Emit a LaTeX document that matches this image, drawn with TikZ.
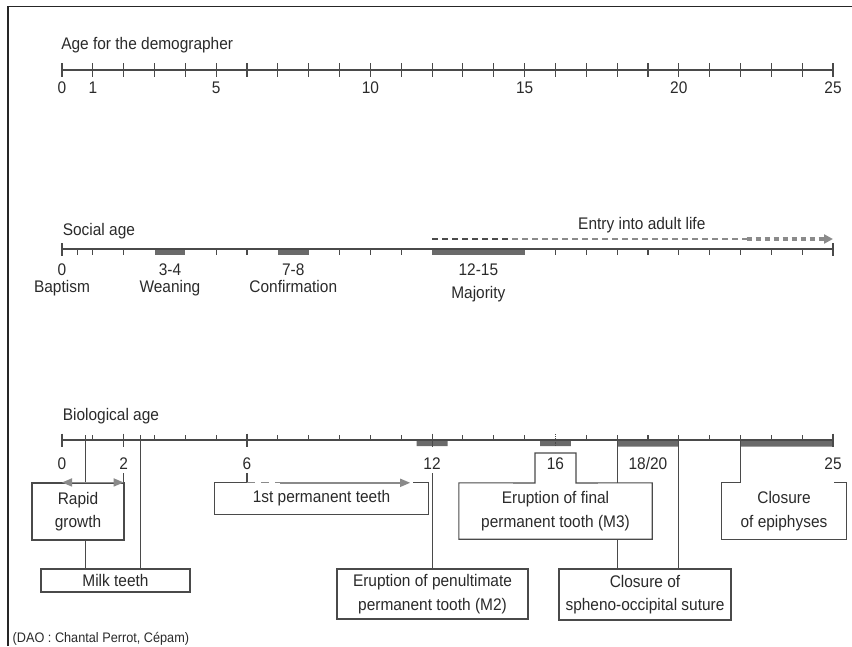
\documentclass[tikz,border=0pt]{standalone}
\usepackage{fontspec}
\setmainfont{Liberation Sans}[FakeStretch=0.92]
\usetikzlibrary{arrows.meta,calc}
\definecolor{trait}{HTML}{4A4A4A}
\definecolor{barre}{HTML}{6A6A6A}
\definecolor{gris}{HTML}{8A8A8A}
\definecolor{encre}{HTML}{2A2A2A}
\tikzset{
  lab/.style={text=encre,inner sep=0pt,font=\fontsize{16.8}{23.5}\selectfont},
  boite/.style={lab,draw=trait,line width=1.1pt,fill=white,align=center},
  cadre/.style={lab,align=center},
  ligne/.style={draw=trait,line width=1.1pt},
  fleche/.style={draw=gris,line width=1.6pt},
}
\begin{document}
\begin{tikzpicture}[x=1pt,y=-1pt]
\useasboundingbox (0,0) rectangle (852,646);
\draw[line width=1.6pt,black!85] (8,646) -- (8,6.5) -- (852,6.5);
\begin{scope}[xshift=62pt,x=30.84pt]
\node[lab,anchor=base west] (titredemo) at (-0.03,49.5) {Age for the demographer};
\draw[ligne] (0,70) -- (25,70);
\foreach \a in {0,...,25}
{
\draw[ligne] (\a,63) -- (\a,77);
}
\foreach \a in {0,1,5,10,15,20,25}
{
\node[lab,anchor=base] (demo\a) at (\a,93.5) {\a};
}
\node[lab,anchor=base west] (titresoc) at (0.02,235.5) {Social age};
\foreach \a/\b in {3/4,7/8,12/15}
{
\fill[barre] (\a,249) rectangle (\b,255);
}
\draw[ligne] (0,249) -- (25,249);
\foreach \a in {0.5,1,2,5,6,9,10,11,16,17,18,19,20,21,22,23,24}
{
\draw[ligne] (\a,249) -- (\a,254.5);
}
\draw[ligne] (0,243) -- (0,255.5) (25,243) -- (25,255.5);
\node[lab,anchor=base] (soc0) at (0,275) {0};
\node[lab,anchor=base] (bapteme) at (0,292.5) {Baptism};
\node[lab,anchor=base] (soc34) at (3.5,275) {3-4};
\node[lab,anchor=base] (sevrage) at (3.5,292.5) {Weaning};
\node[lab,anchor=base] (soc78) at (7.5,275) {7-8};
\node[lab,anchor=base] (confirm) at (7.5,292.5) {Confirmation};
\node[lab,anchor=base] (soc1215) at (13.5,275) {12-15};
\node[lab,anchor=base] (majorite) at (13.5,298) {Majority};
\node[lab,anchor=base] (adulte) at (18.8,229) {Entry into adult life};
\coordinate (adulte1) at (12,239);
\coordinate (adulte2) at (14.6,239);
\coordinate (adulte3) at (22.2,239);
\coordinate (adulte4) at (25,239);
\draw[ligne,line width=1.2pt,dash pattern=on 6pt off 4pt] (adulte1) -- (adulte2);
\draw[fleche,line width=1.2pt,dash pattern=on 6pt off 4pt] (adulte2) -- (adulte3);
\draw[fleche,line width=4pt,dash pattern=on 5pt off 4pt,-{Triangle[length=9pt,width=9pt]}] (adulte3) -- (adulte4);
\node[lab,anchor=base west] (titrebio) at (0.02,420) {Biological age};
\fill[barre] (11.5,440) rectangle (12.5,446) (15.5,440) rectangle (16.5,446)
  (18,440) rectangle (20,446.5) (22,440) rectangle (25,446.5);
\draw[ligne] (0,440) -- (25,440);
\foreach \a in {1,3,4,5,7,8,9,10,11,13,14,15,17,19,21,23,24}
{
\draw[ligne] (\a,435) -- (\a,440);
}
\foreach \a in {0,2,6,12,25}
{
\draw[ligne] (\a,433.5) -- (\a,447);
}
\draw[ligne,densely dotted] (16,434) -- (16,446);
\foreach \a in {0,2,6,12,16,25}
{
\node[lab,anchor=base] (bio\a) at (\a,469) {\a};
}
\node[lab,anchor=base] (bio1820) at (19,469) {18/20};
\coordinate (os1) at (0.75,435);
\coordinate (os2) at (2.55,435);
\coordinate (os18) at (18,435);
\coordinate (os20) at (20,435);
\coordinate (os22) at (22,435);
\end{scope}
\node[boite,minimum width=149pt,minimum height=23pt] (lait) at (115.5,580.5) {Milk teeth};
\draw[ligne] (os1) -- (os1 |- lait.north);
\draw[ligne] (os2) -- (os2 |- lait.north);
\node[boite,minimum width=92pt,minimum height=57pt] (croissance) at (78,511.5) {Rapid\\growth};
\draw[ligne] ([yshift=-4pt]bio2.south) -- (bio2 |- croissance.north);
\draw[fleche,{Triangle[length=10pt,width=8pt]}-{Triangle[length=10pt,width=8pt]}] (bio0 |- croissance.north) -- (bio2 |- croissance.north);
\node[cadre,minimum width=213pt,minimum height=31pt] (dents) at (321.5,498.5) {1st permanent teeth};
\draw[ligne] ([yshift=-4pt]bio6.south) -- (bio6 |- dents.north) -- (dents.north west) -- (dents.south west)
  -- (dents.south east) -- (dents.north east) -- ++(-15,0);
\draw[fleche,line width=1.3pt,dash pattern=on 8pt off 6pt] (bio6 |- dents.north) -- ++(33,0);
\draw[fleche,-{Triangle[length=10pt,width=8pt]}] ($(bio6 |- dents.north)+(33,0)$) -- ($(dents.north east)+(-18,0)$);
\node[boite,minimum width=191pt,minimum height=50pt] (m2) at (432.5,594) {Eruption of penultimate\\permanent tooth (M2)};
\draw[ligne] ([yshift=-4pt]bio12.south) -- (bio12 |- m2.north);
\node[cadre,minimum width=193pt,minimum height=56pt] (m3) at (555.5,511) {Eruption of final\\permanent tooth (M3)};
\draw[ligne] (m3.north west) -- (535,483) -- (535,453) -- (576,453) -- (576,483) -- (m3.north east)
  -- (m3.south east) -- (m3.south west) -- cycle;
\node[boite,minimum width=172pt,minimum height=51pt] (suture) at (645,594.5) {Closure of\\spheno-occipital suture};
\draw[ligne] (os18) -- (os18 |- m3.north);
\draw[ligne] (os18 |- m3.south) -- (os18 |- suture.north);
\draw[ligne] (os20) -- (os20 |- suture.north);
\node[cadre,minimum width=124pt,minimum height=56pt] (epiphyses) at (784,511) {Closure\\of epiphyses};
\draw[ligne] (os22) -- (os22 |- epiphyses.north) -- (epiphyses.north west) -- (epiphyses.south west)
  -- (epiphyses.south east) -- (epiphyses.north east) -- ++(-12.5,0);
\node[lab,anchor=base west,font=\fontsize{13.8}{16}\selectfont] (credit) at (12.5,642.5) {(DAO : Chantal Perrot, Cépam)};
\end{tikzpicture}
\end{document}
